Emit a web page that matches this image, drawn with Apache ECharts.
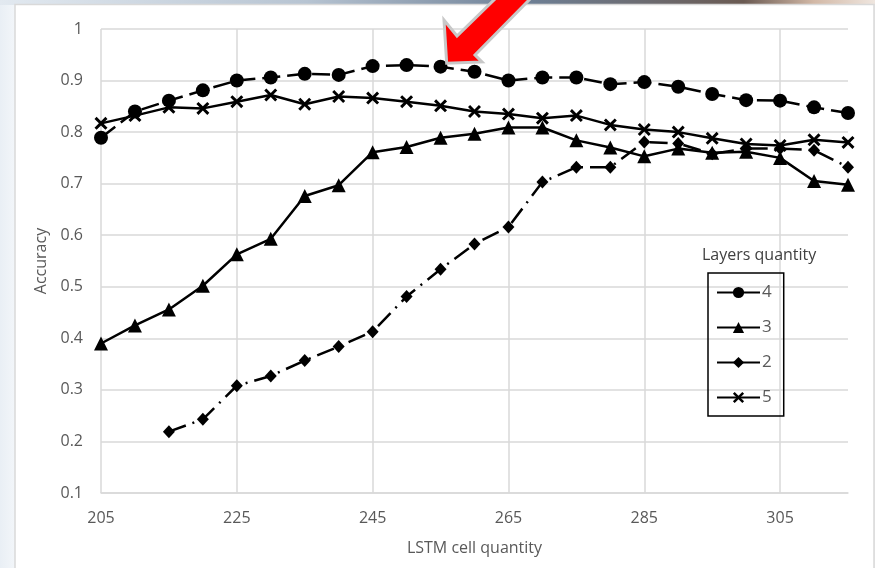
<!DOCTYPE html>
<html>
<head>
<meta charset="utf-8">
<script src="https://cdn.jsdelivr.net/npm/echarts@6/dist/echarts.min.js"></script>
<style>
html,body{margin:0;padding:0;background:#fff;}
#chart{width:875px;height:568px;}
</style>
</head>
<body>
<div id="chart"></div>
<script>
// LSTM cell quantity (x values)
const xValues = [205,210,215,220,225,230,235,240,245,250,255,260,265,270,275,280,285,290,295,300,305,310,315];
// Accuracy per layer quantity
const layers4 = [0.789,0.840,0.861,0.881,0.900,0.906,0.913,0.911,0.928,0.930,0.927,0.917,0.900,0.906,0.906,0.893,0.897,0.888,0.874,0.862,0.861,0.848,0.837];
const layers3 = [0.390,0.425,0.456,0.502,0.563,0.593,0.676,0.697,0.761,0.771,0.789,0.797,0.809,0.809,0.784,0.770,0.753,0.768,0.760,0.762,0.750,0.705,0.698];
const layers2 = [null,null,0.219,0.243,0.308,0.327,0.357,0.384,0.413,0.481,0.534,0.583,0.616,0.703,0.732,0.732,0.781,0.778,0.758,0.768,0.768,0.765,0.732];
const layers5 = [0.817,0.832,0.848,0.846,0.859,0.872,0.854,0.869,0.866,0.859,0.851,0.840,0.835,0.827,0.832,0.814,0.805,0.800,0.788,0.777,0.774,0.785,0.780];
const seriesNames = ['4','3','2','5'];
const yTicks = {min:0.1, max:1, interval:0.1};
const xTicks = {min:205, max:315, interval:20};

function pairs(arr){ return xValues.map((x,i)=>[x,arr[i]]).filter(p=>p[1]!==null); }

const FONT = '"Open Sans", "Liberation Sans", sans-serif';
const crossPath = 'path://M0,1.6 L1.6,0 L5,3.4 L8.4,0 L10,1.6 L6.6,5 L10,8.4 L8.4,10 L5,6.6 L1.6,10 L0,8.4 L3.4,5 Z';

const chart = echarts.init(document.getElementById('chart'), null, {renderer:'canvas'});
const lineBase = {color:'#000', width:2.5};
chart.setOption({
  animation:false,
  backgroundColor:'#fff',
  textStyle:{fontFamily:FONT},
  graphic:[
    {type:'rect', z:-10, silent:true, shape:{x:0,y:0,width:875,height:568},
     style:{fill:new echarts.graphic.LinearGradient(0,0,1,0,[{offset:0,color:'#e9eff5'},{offset:0.02,color:'#f4f7fa'},{offset:0.98,color:'#f6f6f6'},{offset:1,color:'#eeeeee'}])}},
    {type:'rect', z:-9, silent:true, shape:{x:0,y:0,width:875,height:5},
     style:{fill:new echarts.graphic.LinearGradient(0,0,1,0,[{offset:0,color:'#e2e9f0'},{offset:0.35,color:'#b7c4d2'},{offset:0.6,color:'#6e8096'},{offset:0.85,color:'#6a5a52'},{offset:0.93,color:'#d2b8a6'},{offset:1,color:'#efe6df'}])}},
    {type:'rect', z:-8, silent:true, shape:{x:15,y:4.5,width:859,height:570},
     style:{fill:'#fff', stroke:'#d9d9d9', lineWidth:1.5}},
    {type:'polygon', z:100, silent:true,
     shape:{points:[[446.7,63.3],[444,20],[457,36],[497,-3],[532,-3],[475,55],[482,62]]},
     style:{fill:'#ff0000', stroke:'#c8c8c8', lineWidth:3, lineJoin:'miter'}}
  ],
  title:{text:'Layers quantity', left:697, top:242,
    textStyle:{fontFamily:FONT, fontSize:16, fontWeight:'normal', color:'#404040'}},
  grid:{left:101, right:27, top:29, bottom:75, containLabel:false},
  legend:{
    orient:'vertical', left:708, top:273, width:74,
    data:seriesNames,
    itemWidth:43, itemHeight:14, itemGap:18,
    padding:[11,12,10,8],
    borderColor:'#000', borderWidth:1.5,
    textStyle:{fontFamily:FONT, fontSize:17, color:'#595959', padding:[0,0,0,-3]},
    lineStyle:{type:'solid'}
  },
  xAxis:{
    type:'value', min:xTicks.min, max:xTicks.max, interval:xTicks.interval,
    name:'LSTM cell quantity', nameLocation:'middle', nameGap:47,
    nameTextStyle:{fontFamily:FONT, fontSize:16, color:'#595959'},
    axisLine:{show:true, lineStyle:{color:'#d9d9d9', width:1.5}},
    axisTick:{show:false},
    axisLabel:{fontFamily:FONT, fontSize:16, color:'#595959', margin:17, showMaxLabel:false},
    splitLine:{show:true, showMaxLine:false, lineStyle:{color:'#d9d9d9', width:1.5}}
  },
  yAxis:{
    type:'value', min:yTicks.min, max:yTicks.max, interval:yTicks.interval,
    name:'Accuracy', nameLocation:'middle', nameGap:52,
    nameTextStyle:{fontFamily:FONT, fontSize:16, color:'#595959'},
    axisLine:{show:false},
    axisTick:{show:false},
    axisLabel:{fontFamily:FONT, fontSize:16, color:'#595959', margin:18,
      formatter:v=>String(Math.round(v*10)/10)},
    splitLine:{show:true, lineStyle:{color:'#d9d9d9', width:1.5}}
  },
  series:[
    {name:'4', type:'line', data:pairs(layers4), symbol:'circle', symbolSize:14,
     itemStyle:{color:'#000'}, lineStyle:Object.assign({}, lineBase, {type:[18,7]}), z:4},
    {name:'3', type:'line', data:pairs(layers3), symbol:'triangle', symbolSize:14,
     itemStyle:{color:'#000'}, lineStyle:Object.assign({}, lineBase, {type:'solid'}), z:3},
    {name:'2', type:'line', data:pairs(layers2), symbol:'diamond', symbolSize:[12,13],
     itemStyle:{color:'#000'}, lineStyle:Object.assign({}, lineBase, {type:[18,7,2,7]}), z:2},
    {name:'5', type:'line', data:pairs(layers5), symbol:crossPath, symbolSize:13,
     itemStyle:{color:'#000'}, lineStyle:Object.assign({}, lineBase, {type:'solid'}), z:5}
  ]
});
</script>
</body>
</html>
